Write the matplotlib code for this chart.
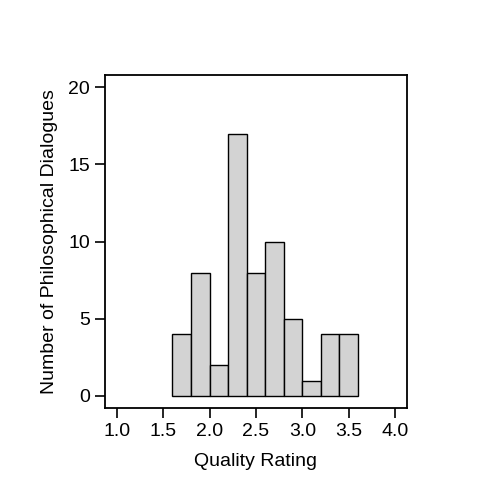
import matplotlib
matplotlib.use("Agg")
import matplotlib.pyplot as plt

# histogram bins (left edges) and counts
bin_lefts = [1.6, 1.8, 2.0, 2.2, 2.4, 2.6, 2.8, 3.0, 3.2, 3.4]
counts = [4, 8, 2, 17, 8, 10, 5, 1, 4, 4]
bin_width = 0.2

x_ticks = [1.0, 1.5, 2.0, 2.5, 3.0, 3.5, 4.0]
y_ticks = [0, 5, 10, 15, 20]

plt.rcParams['font.family'] = ['Liberation Sans', 'DejaVu Sans']

fig = plt.figure(figsize=(4.8, 5.0), dpi=100)
ax = fig.add_axes([0.219, 0.184, 0.628, 0.666])

ax.bar(bin_lefts, counts, width=bin_width, align='edge',
       color='#d3d3d3', edgecolor='black', linewidth=1.0)

ax.set_xlim(0.874, 4.123)
ax.set_ylim(-0.78, 20.8)
ax.set_xticks(x_ticks)
ax.set_xticklabels([f"{t:.1f}" for t in x_ticks])
ax.set_yticks(y_ticks)

ax.tick_params(direction='out', length=7, width=1.2, labelsize=14, pad=4)
for s in ax.spines.values():
    s.set_linewidth(1.3)

ax.set_xlabel("Quality Rating", fontsize=14, labelpad=9)
ax.set_ylabel("Number of Philosophical Dialogues", fontsize=14, labelpad=7)

fig.savefig("out.png", dpi=100)
